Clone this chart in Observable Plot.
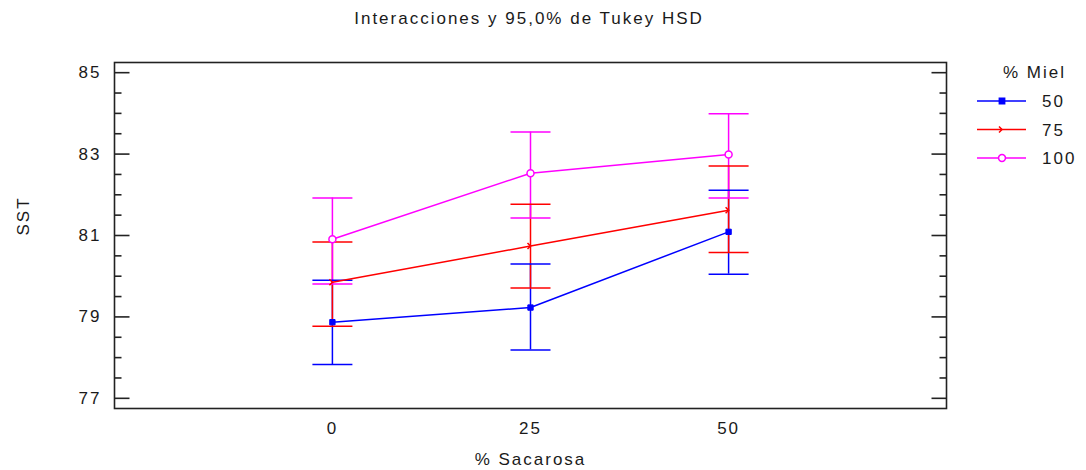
<!DOCTYPE html>
<html><head><meta charset="utf-8">
<script src="https://cdn.jsdelivr.net/npm/d3@7"></script>
<script src="https://cdn.jsdelivr.net/npm/@observablehq/plot@0.6"></script>
<style>
body{margin:0;background:#fff;}
#wrap{position:relative;width:1086px;height:470px;}
svg text{letter-spacing:2px;}
</style></head><body><div id="wrap"></div>
<script>
// Data
const sacarosa = [0, 25, 50];
const mielLevels = ["50", "75", "100"];
const mean50  = [78.87, 79.23, 81.09];
const lo50    = [77.83, 78.19, 80.05];
const hi50    = [79.90, 80.30, 82.11];
const mean75  = [79.85, 80.74, 81.62];
const lo75    = [78.77, 79.71, 80.58];
const hi75    = [80.84, 81.77, 82.71];
const mean100 = [80.91, 82.53, 82.99];
const lo100   = [79.81, 81.43, 81.92];
const hi100   = [81.92, 83.54, 83.99];
const yTicks = [77, 79, 81, 83, 85];
const yMinorTicks = [77.5, 78, 78.5, 79.5, 80, 80.5, 81.5, 82, 82.5, 83.5, 84, 84.5];
const colors = ["#0000ff", "#ff0000", "#ff00ff"];
const titleText = "Interacciones y 95,0% de Tukey HSD";
const xLabel = "% Sacarosa";
const yLabel = "SST";
const legendTitle = "% Miel";

const means = [mean50, mean75, mean100], los = [lo50, lo75, lo100], his = [hi50, hi75, hi100];
const rows = [];
mielLevels.forEach((m, i) => sacarosa.forEach((s, j) =>
  rows.push({miel: m, sac: s, mean: means[i][j], lo: los[i][j], hi: his[i][j]})));

const rad = s => Math.sqrt(s / Math.PI);
const capSym = {draw(c, s) { const r = rad(s); c.moveTo(-r, 0); c.lineTo(r, 0); }};
const tickRight = {draw(c, s) { const r = rad(s); c.moveTo(0, 0); c.lineTo(r, 0); }};
const tickLeft = {draw(c, s) { const r = rad(s); c.moveTo(0, 0); c.lineTo(-r, 0); }};
const arrowSym = {draw(c, s) { const r = rad(s); c.moveTo(-r, -r); c.lineTo(0, 0); c.lineTo(-r, r); }};

const byMiel = m => rows.filter(d => d.miel === m);
const ink = "#1a1a1a";

const chart = Plot.plot({
  width: 1086, height: 470,
  marginLeft: 114, marginRight: 140, marginTop: 62, marginBottom: 62,
  style: {fontFamily: "Arial, 'Liberation Sans', sans-serif", fontSize: "17px", color: ink, background: "#fff"},
  x: {domain: [-27.5, 77.5]},
  y: {domain: [76.75, 85.25]},
  color: {domain: mielLevels, range: colors},
  marks: [
    Plot.axisY({ticks: yTicks, tickSize: 0, tickPadding: 13, label: null, fill: ink}),
    Plot.axisX({ticks: sacarosa, tickSize: 0, tickPadding: 13, label: null, fill: ink, tickFormat: d => String(d)}),
    Plot.dot(yTicks, {y: d => d, frameAnchor: "left", symbol: tickRight, r: 15, stroke: "#222", strokeWidth: 1.6}),
    Plot.dot(yMinorTicks, {y: d => d, frameAnchor: "left", symbol: tickRight, r: 7, stroke: "#222", strokeWidth: 1.6}),
    Plot.dot(yTicks, {y: d => d, frameAnchor: "right", symbol: tickLeft, r: 15, stroke: "#222", strokeWidth: 1.6}),
    Plot.dot(yMinorTicks, {y: d => d, frameAnchor: "right", symbol: tickLeft, r: 7, stroke: "#222", strokeWidth: 1.6}),
    Plot.frame({stroke: "#222", strokeWidth: 1.6}),
    Plot.ruleX(rows, {x: "sac", y1: "lo", y2: "hi", stroke: "miel", strokeWidth: 1.5}),
    Plot.dot(rows, {x: "sac", y: "lo", symbol: capSym, r: 20, stroke: "miel", strokeWidth: 1.5}),
    Plot.dot(rows, {x: "sac", y: "hi", symbol: capSym, r: 20, stroke: "miel", strokeWidth: 1.5}),
    Plot.line(rows, {x: "sac", y: "mean", stroke: "miel", z: "miel", strokeWidth: 1.5}),
    Plot.dot(byMiel("50"), {x: "sac", y: "mean", symbol: "square", r: 3, fill: "miel", stroke: "miel", strokeWidth: 1}),
    Plot.dot(byMiel("75"), {x: "sac", y: "mean", symbol: arrowSym, r: 3, stroke: "miel", fill: "none", strokeWidth: 1.5}),
    Plot.dot(byMiel("100"), {x: "sac", y: "mean", symbol: "circle", r: 3.5, stroke: "miel", fill: "white", strokeWidth: 1.5}),
    Plot.text([xLabel], {frameAnchor: "bottom", dy: 56, lineAnchor: "bottom", text: d => d, fill: ink}),
    Plot.text([yLabel], {frameAnchor: "left", dx: -91, rotate: -90, text: d => d, fill: ink})
  ]
});

// Title and legend drawn into the same SVG
const svg = d3.select(chart);
svg.append("text").attr("x", 529).attr("y", 24).attr("text-anchor", "middle")
  .attr("font-family", "Arial, 'Liberation Sans', sans-serif").attr("font-size", 17).attr("fill", ink).text(titleText);
const lg = svg.append("g").attr("font-family", "Arial, 'Liberation Sans', sans-serif").attr("font-size", 17)
  .attr("fill", ink).attr("text-anchor", "start");
lg.append("text").attr("x", 1003).attr("y", 78).attr("text-anchor", "start").text(legendTitle);
const legendY = [101, 129.5, 158];
const symPaths = [
  d3.symbol(d3.symbolSquare, 9 * Math.PI)(),
  d3.symbol(arrowSym, 9 * Math.PI)(),
  d3.symbol(d3.symbolCircle, 12 * Math.PI)()
];
mielLevels.forEach((m, i) => {
  const g = lg.append("g").attr("transform", `translate(0,${legendY[i]})`);
  g.append("line").attr("x1", 977).attr("x2", 1026).attr("y1", 0).attr("y2", 0).attr("stroke", colors[i]).attr("stroke-width", 1.5);
  g.append("path").attr("d", symPaths[i]).attr("transform", "translate(1002,0)")
    .attr("stroke", colors[i]).attr("stroke-width", 1.5)
    .attr("fill", i === 0 ? colors[i] : i === 2 ? "white" : "none");
  g.append("text").attr("x", 1042).attr("y", 6).attr("text-anchor", "start").text(m);
});
document.getElementById("wrap").appendChild(chart);
</script>
</body></html>
